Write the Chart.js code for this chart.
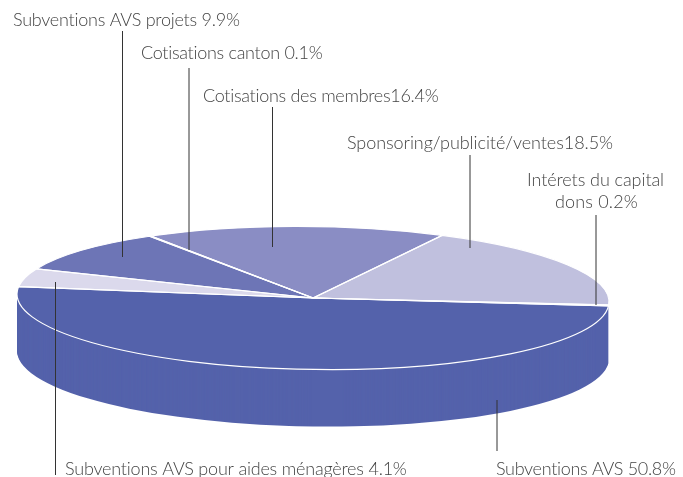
<!DOCTYPE html>
<html>
<head>
<meta charset="utf-8">
<script src="https://cdn.jsdelivr.net/npm/chart.js@4"></script>
<style>
html, body { margin: 0; padding: 0; background: #fff; }
canvas { display: block; }
</style>
</head>
<body>
<canvas id="pie" width="683" height="477"></canvas>
<script>
const categories = ["Subventions AVS", "Subventions AVS pour aides ménagères", "Subventions AVS projets",
    "Cotisations canton", "Cotisations des membres", "Sponsoring/publicité/ventes", "Intérets du capital dons"];
const shares = [50.8, 4.1, 9.9, 0.1, 16.4, 18.5, 0.2];
const colors = ["#5462ab", "#dbd9ec", "#6d75b6", "#7b80bd", "#8a8dc4", "#c0c0de", "#c0c0de"];

// the tilted disc
const CX = 313, CY = 298, RX = 296, RY = 71.5, TILT = 0.8, DEPTH = 57;

// label text, left edge, width, middle y
const labels = [
    ["Subventions AVS projets 9.9%", 13, 227, 20],
    ["Cotisations canton 0.1%", 141, 182, 53],
    ["Cotisations des membres16.4%", 203, 236, 96],
    ["Sponsoring/publicité/ventes18.5%", 347, 266, 143],
    ["Intérets du capital", 527, 137, 180],
    ["dons 0.2%", 555, 83, 202],
    ["Subventions AVS pour aides ménagères 4.1%", 65, 342, 469],
    ["Subventions AVS 50.8%", 496, 180, 469]
];
// leader lines: x, top, bottom
const leaders = [
    [122.5, 31, 257], [189, 68, 250], [272.5, 107, 247], [470, 155, 248],
    [596, 215, 305], [55.5, 282, 475], [497, 400, 451]
];

function squash(ctx, el) {
    const k = el.outerRadius;
    ctx.translate(CX, CY);
    ctx.rotate(TILT * Math.PI / 180);
    ctx.scale(RX / k, RY / k);
    ctx.translate(-el.x, -el.y);
}

const disc = {
    id: "disc",
    beforeDatasetsDraw(chart) {
        const ctx = chart.ctx;
        const first = chart.getDatasetMeta(0).data[0];
        // side wall, the big slice is the only one facing us
        for (let d = DEPTH; d > 0; d--) {
            ctx.save();
            ctx.translate(0, d);
            squash(ctx, first);
            first.draw(ctx);
            ctx.restore();
        }
        ctx.save();
        squash(ctx, first);
    },
    afterDatasetsDraw(chart) {
        const ctx = chart.ctx;
        ctx.restore();

        // white outlines, stroked outside the squash so the width stays even
        chart.getDatasetMeta(0).data.forEach(el => {
            ctx.save();
            squash(ctx, el);
            ctx.beginPath();
            ctx.moveTo(el.x, el.y);
            ctx.arc(el.x, el.y, el.outerRadius, el.startAngle, el.endAngle);
            ctx.closePath();
            ctx.restore();
            ctx.strokeStyle = "#fff";
            ctx.lineWidth = 1.2;
            ctx.stroke();
        });

        ctx.save();
        ctx.strokeStyle = "#333";
        ctx.lineWidth = 1;
        leaders.forEach(([x, top, bottom]) => {
            ctx.beginPath();
            ctx.moveTo(x, top);
            ctx.lineTo(x, bottom);
            ctx.stroke();
        });

        ctx.font = "300 18px Lato";
        ctx.fillStyle = "#444";
        ctx.textBaseline = "middle";
        labels.forEach(([text, x, width, y]) => {
            ctx.letterSpacing = "0px";
            const extra = (width - ctx.measureText(text).width) / text.length;
            ctx.letterSpacing = extra + "px";
            ctx.fillText(text, x, y);
        });
        ctx.restore();
    }
};

new Chart(document.getElementById("pie"), {
    type: "pie",
    data: {
        labels: categories,
        datasets: [{ data: shares, backgroundColor: colors, borderWidth: 0 }]
    },
    options: {
        responsive: false,
        animation: false,
        rotation: 93,
        plugins: { legend: { display: false }, tooltip: { enabled: false } }
    },
    plugins: [disc]
});
</script>
</body>
</html>
